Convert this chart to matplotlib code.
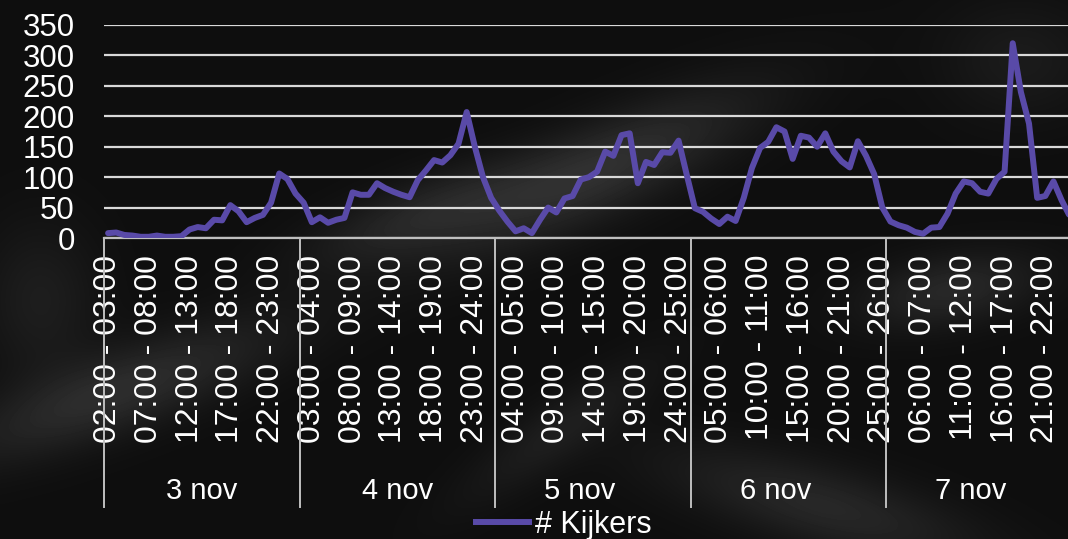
import numpy as np
import matplotlib
matplotlib.use("Agg")
from matplotlib import pyplot as plt
from matplotlib.lines import Line2D
from matplotlib.transforms import blended_transform_factory

plt.rcParams['font.family'] = ['Liberation Sans', 'DejaVu Sans']

days = ["3 nov", "4 nov", "5 nov", "6 nov", "7 nov"]
hours = list(range(2, 26))  # every day runs 02:00 - 26:00
kijkers = [
    # 3 nov
    8, 9, 5, 4, 2, 2, 4, 2, 2, 3, 14, 18, 16, 30, 29, 54, 44, 26, 33, 38, 58, 106, 97, 73,
    # 4 nov
    58, 26, 34, 25, 30, 33, 75, 71, 71, 90, 82, 76, 71, 67, 95, 111, 128, 124, 136, 155, 207, 150, 100, 66,
    # 5 nov
    45, 27, 11, 16, 8, 30, 50, 42, 65, 69, 96, 100, 109, 142, 135, 169, 172, 90, 125, 120, 141, 140, 160, 104,
    # 6 nov
    49, 43, 32, 23, 35, 28, 66, 115, 148, 158, 182, 175, 130, 168, 165, 150, 172, 142, 126, 116, 159, 135, 105, 50,
    # 7 nov
    27, 21, 17, 10, 7, 17, 18, 40, 73, 93, 90, 76, 73, 97, 109, 320, 240, 188, 66, 69, 93, 62, 36,
]
yticks = [0, 50, 100, 150, 200, 250, 300, 350]

labels = [f"{h:02d}:00 - {h + 1:02d}:00" for d in days for h in hours]
n = len(labels)
per_day = len(hours)

W, H = 1068, 539
fig = plt.figure(figsize=(W / 100, H / 100), dpi=100, facecolor='#111111')

# smoky dark background
yy, xx = np.mgrid[0:H, 0:W].astype(float)
bg = np.full((H, W), 0.055)
blobs = [
    (600, 170, 170, 45, -25, 0.13),
    (420, 215, 120, 35, -20, 0.09),
    (120, 390, 170, 40, -20, 0.12),
    (950, 290, 90, 35, -10, 0.10),
    (820, 505, 160, 40, 15, 0.10),
    (1020, 60, 80, 60, 0, 0.05),
    (40, 300, 60, 80, 0, 0.06),
    (560, 430, 120, 30, -35, 0.06),
]
for cx, cy, sx, sy, ang, amp in blobs:
    a = np.deg2rad(ang)
    u = (xx - cx) * np.cos(a) + (yy - cy) * np.sin(a)
    v = -(xx - cx) * np.sin(a) + (yy - cy) * np.cos(a)
    bg += amp * np.exp(-(u / sx) ** 2 - (v / sy) ** 2)
fig.figimage(np.clip(bg, 0, 1), cmap='gray', vmin=0, vmax=1, origin='upper', zorder=-10)

ax = fig.add_axes([104 / W, (H - 238) / H, 978 / W, 213 / H])
ax.set_facecolor('none')

x = np.arange(len(kijkers))
ax.plot(x, kijkers, color='#594aa8', lw=4.3, solid_joinstyle='round',
        solid_capstyle='round', zorder=3)

ax.set_xlim(-0.5, n - 0.5)
ax.set_ylim(0, 350)
ax.set_yticks(yticks)
ax.set_yticklabels([str(v) for v in yticks])
ax.set_xticks(np.arange(0, n, 5))
ax.set_xticklabels(labels[::5], rotation=90)
ax.tick_params(axis='x', length=0, pad=12, labelsize=23, labelcolor='white')
ax.tick_params(axis='y', length=0, pad=21, labelsize=22.5, labelcolor='white')

ax.yaxis.grid(True, color='#d9d9d9', lw=1.6)
ax.set_axisbelow(True)
for s in ['left', 'right', 'top']:
    ax.spines[s].set_visible(False)
ax.spines['bottom'].set_color('#bfbfbf')
ax.spines['bottom'].set_linewidth(1.6)

# day group separators and labels under the hour labels
trans = blended_transform_factory(ax.transData, ax.transAxes)
sep_bottom = -(507 - 238) / 213
day_y = -(491 - 238) / 213
day_shift = [0, 0, -1.6, -1.6, -1.6]
for k in range(len(days) + 1):
    ax.plot([k * per_day - 0.5] * 2, [0, sep_bottom], transform=trans, color='#bfbfbf',
            lw=1.4, clip_on=False)
for k, d in enumerate(days):
    ax.text(k * per_day + (per_day - 1) / 2 + day_shift[k], day_y, d, transform=trans,
            ha='center', va='center', color='white', fontsize=21)

handle = Line2D([], [], color='#594aa8', lw=4.3)
fig.legend([handle], ['# Kijkers'], loc='center', bbox_to_anchor=(564 / W, 1 - 525 / H),
           frameon=False, fontsize=22, labelcolor='white', handlelength=1.75,
           handletextpad=0.2, borderpad=0)

fig.savefig('out.png', dpi=100, facecolor=fig.get_facecolor())
